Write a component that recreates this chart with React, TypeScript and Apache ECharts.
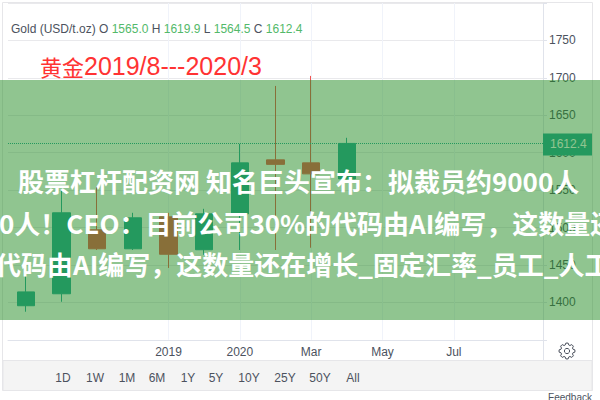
import React, { useEffect, useRef } from "react";
import * as echarts from "echarts";

const categories = ["", "", "", "", "2019", "", "2020", "", "Mar", "", "May", "", "Jul", "", ""];
// [open, close, low, high]
const candles = [
  [1395.5, 1414, 1387.5, 1448],
  [1411.5, 1519.7, 1400.8, 1550.4],
  [1497, 1471.6, 1470, 1554.4],
  [1471.6, 1513, 1470, 1519.7],
  [1514.3, 1464.3, 1446, 1519.7],
  [1470.3, 1518.3, 1463.6, 1525],
  [1518.3, 1586.4, 1470, 1611.8],
  [1590.4, 1584.4, 1470, 1689.2],
  [1586.4, 1571.7, 1473, 1702.6],
  [1565.0, 1612.4, 1564.5, 1619.9],
];
const lastClose = 1612.4;
const hiddenTicks = [1800, 1350];
const rangeButtons = ["1D", "1W", "1M", "6M", "1Y", "5Y", "10Y", "25Y", "50Y", "All"];
const rangeX = [63, 95, 127, 157, 188, 216, 249, 285, 320, 353];
const titleLines = [
  "股票杠杆配资网 知名巨头宣布：拟裁员约9000人",
  "0人！CEO：目前公司30%的代码由AI编写，这数量还",
  "代码由AI编写，这数量还在增长_固定汇率_员工_人工",
];
const titleX = [18, -1, -5];
const titleY = [180, 222, 263];

const UP = "#26a69a";
const DOWN = "#ef5350";
const TXT = "#4c525e";
const FONT = "'Liberation Sans', Arial, sans-serif";
const CJK = "'Noto Sans CJK SC', sans-serif";

function gearPoints(): number[][] {
  const pts: number[][] = [];
  const n = 8;
  for (let i = 0; i < n; i++) {
    const a = (i / n) * Math.PI * 2;
    const w = 0.2;
    pts.push([Math.cos(a - w * 1.5) * 6.2, Math.sin(a - w * 1.5) * 6.2]);
    pts.push([Math.cos(a - w * 0.7) * 8, Math.sin(a - w * 0.7) * 8]);
    pts.push([Math.cos(a + w * 0.7) * 8, Math.sin(a + w * 0.7) * 8]);
    pts.push([Math.cos(a + w * 1.5) * 6.2, Math.sin(a + w * 1.5) * 6.2]);
  }
  return pts;
}

export default function App() {
  const ref = useRef<HTMLDivElement>(null);
  useEffect(() => {
    const chart = echarts.init(ref.current!, null, { renderer: "svg" });
    chart.setOption({
      animation: false,
      backgroundColor: "#ffffff",
      grid: { left: 8, top: 3, width: 535, height: 336.8 },
      xAxis: {
        type: "category",
        data: categories,
        axisLine: { show: true, lineStyle: { color: "#e0e3eb" } },
        axisTick: { show: false },
        axisLabel: { interval: 0, color: TXT, fontSize: 12, fontFamily: FONT, margin: 6 },
        splitLine: {
          show: true,
          alignWithLabel: true,
          interval: (_i: number, name: string) => name !== "",
          lineStyle: { color: "#f0f3fa" },
        },
      },
      yAxis: {
        type: "value",
        position: "right",
        min: 1350,
        max: 1800,
        interval: 50,
        axisLine: { show: true, lineStyle: { color: "#e0e3eb" } },
        axisTick: { show: true, length: 4, lineStyle: { color: "#e0e3eb" } },
        axisLabel: {
          color: TXT,
          fontSize: 12,
          fontFamily: FONT,
          margin: 6,
          formatter: (v: number) => (hiddenTicks.includes(v) ? "" : String(v)),
        },
        splitLine: { show: true, lineStyle: { color: "#e9e9ec" } },
      },
      series: [
        {
          type: "candlestick",
          data: candles,
          barWidth: 18,
          itemStyle: { color: UP, color0: DOWN, borderColor: UP, borderColor0: DOWN, borderWidth: 1 },
          markLine: {
            silent: true,
            symbol: "none",
            lineStyle: { color: UP, type: "dotted", width: 1 },
            label: {
              show: true,
              position: "end",
              distance: 0,
              offset: [0, 1],
              formatter: () => lastClose.toFixed(1),
              color: "#ffffff",
              fontSize: 12,
              fontFamily: FONT,
              backgroundColor: UP,
              width: 36,
              align: "left",
              padding: [5, 6, 5, 7],
            },
            data: [{ yAxis: lastClose }],
          },
        },
      ],
      graphic: [
        { type: "rect", z: 1, shape: { x: 2.5, y: 2.5, width: 590, height: 388 }, style: { fill: "none", stroke: "#e6e6e9", lineWidth: 1 } },
        { type: "rect", z: 1, shape: { x: 3, y: 360.5, width: 589, height: 30 }, style: { fill: "#f4f4f4", stroke: "#e6e6e9", lineWidth: 1 } },
        { type: "line", z: 1, shape: { x1: 543.5, y1: 339, x2: 543.5, y2: 360 }, style: { stroke: "#e0e3eb", lineWidth: 1 } },
        ...rangeButtons.map((t, i) => ({
          type: "text",
          z: 5,
          x: rangeX[i],
          y: 378,
          style: { text: t, fill: TXT, font: `12px ${FONT}`, textAlign: "center", textVerticalAlign: "middle" },
        })),
        { type: "text", z: 5, x: 592, y: 397, style: { text: "Feedback", fill: TXT, font: `10px ${FONT}`, textAlign: "right", textVerticalAlign: "middle" } },
        { type: "polygon", z: 5, x: 567, y: 351, shape: { points: gearPoints() }, style: { fill: "none", stroke: TXT, lineWidth: 1 } },
        { type: "circle", z: 5, shape: { cx: 567, cy: 351, r: 2.6 }, style: { fill: "none", stroke: TXT, lineWidth: 1 } },
        {
          type: "text",
          z: 5,
          x: 11,
          y: 29,
          style: {
            text: "{d|Gold (USD/t.oz) O }{g|1565.0}{d| H }{g|1619.9}{d| L }{g|1564.5}{d| C }{g|1612.4}",
            textVerticalAlign: "middle",
            font: `12px ${FONT}`,
            rich: {
              d: { fill: TXT, color: TXT, font: `12px ${FONT}` },
              g: { fill: "#53b96a", color: "#53b96a", font: `12px ${FONT}` },
            },
          },
        },
        {
          type: "text",
          z: 5,
          x: 40,
          y: 66,
          style: {
            text: "{a|黄金}{b|2019/8---2020/3}",
            textVerticalAlign: "middle",
            rich: {
              a: { fill: "#ff3333", color: "#ff3333", font: `22px ${CJK}` },
              b: { fill: "#ff3333", color: "#ff3333", font: `25px ${FONT}` },
            },
          },
        },
        { type: "rect", z: 100, shape: { x: 0, y: 80, width: 600, height: 240 }, style: { fill: "rgba(34,139,34,0.5)" } },
        ...titleLines.map((t, i) => ({
          type: "text",
          z: 101,
          x: titleX[i],
          y: titleY[i],
          style: { text: t, fill: "#ffffff", font: `bold 26px ${CJK}`, textVerticalAlign: "middle" },
        })),
      ],
    });
    return () => chart.dispose();
  }, []);
  return (
    <div style={{ position: "fixed", left: 0, top: 0, width: 600, height: 400, overflow: "hidden" }}>
      <div ref={ref} style={{ width: 600, height: 400 }} />
    </div>
  );
}
